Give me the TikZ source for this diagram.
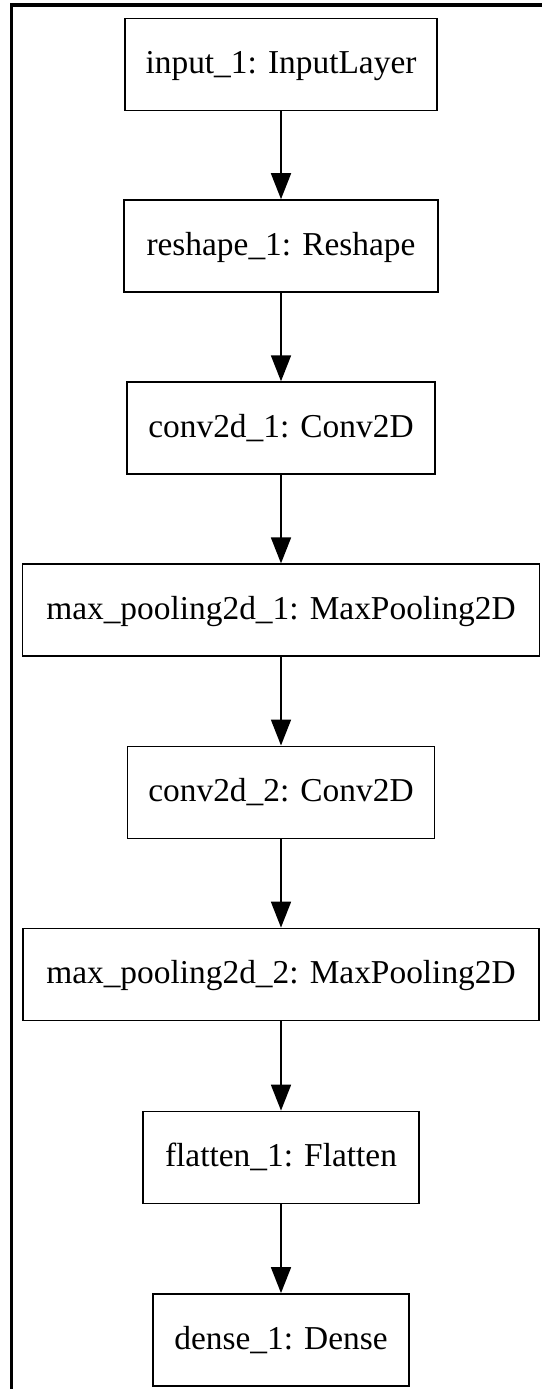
\documentclass[tikz,border=0pt]{standalone}
\usepackage{fontspec}
\setmainfont{Liberation Serif}
\usetikzlibrary{arrows.meta}
\begin{document}
\begin{tikzpicture}[x=1pt,y=-1pt,
  layer/.style={draw=black, line width=1.8pt, fill=white, rectangle, inner sep=0pt,
    minimum height=92pt, text height=25pt, text depth=7pt,
    font=\fontsize{33.4}{40}\selectfont},
  arr/.style={draw=black, line width=1.8pt, -{Triangle[length=26pt,width=20pt]}},
  frame/.style={draw=black, line width=3.5pt}]
\useasboundingbox (0,0) rectangle (542,1389);
\draw[frame] (11.4,1389) -- (11.4,5.2) -- (542,5.2);
\node[layer, minimum width=312pt] (n1) at (281,64.5) {input\_1: InputLayer};
\node[layer, minimum width=314pt] (n2) at (281,246.1) {reshape\_1: Reshape};
\node[layer, minimum width=308pt] (n3) at (281,428.2) {conv2d\_1: Conv2D};
\node[layer, minimum width=517pt] (n4) at (281,610.3) {max\_pooling2d\_1: MaxPooling2D};
\node[layer, minimum width=307pt] (n5) at (281,792.4) {conv2d\_2: Conv2D};
\node[layer, minimum width=516pt] (n6) at (281,974.5) {max\_pooling2d\_2: MaxPooling2D};
\node[layer, minimum width=276pt] (n7) at (281,1157.5) {flatten\_1: Flatten};
\node[layer, minimum width=256pt] (n8) at (281,1340) {dense\_1: Dense};
\draw[arr] (n1.south) -- (n2.north);
\draw[arr] (n2.south) -- (n3.north);
\draw[arr] (n3.south) -- (n4.north);
\draw[arr] (n4.south) -- (n5.north);
\draw[arr] (n5.south) -- (n6.north);
\draw[arr] (n6.south) -- (n7.north);
\draw[arr] (n7.south) -- (n8.north);
\end{tikzpicture}
\end{document}
